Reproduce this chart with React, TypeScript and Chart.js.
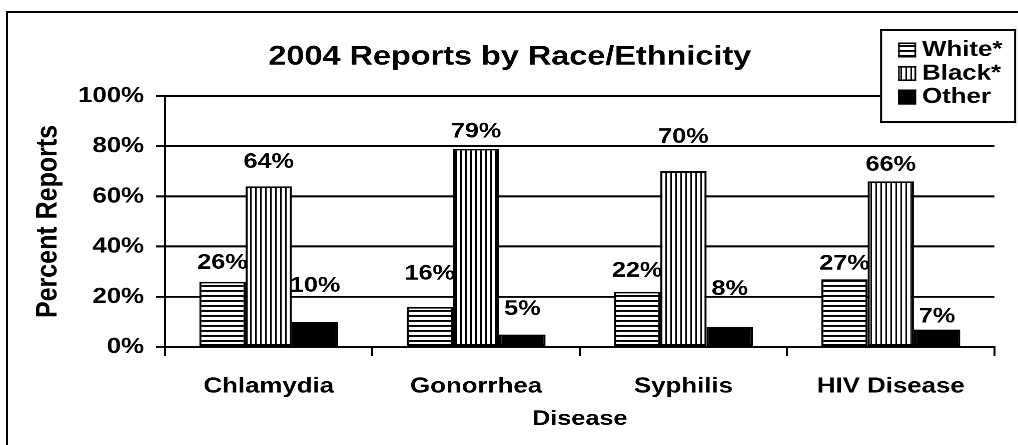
import React, { useEffect, useRef } from "react";
import { Chart, registerables } from "chart.js";

Chart.register(...registerables);

// ---------- data ----------
const categories = ["Chlamydia", "Gonorrhea", "Syphilis", "HIV Disease"];
const seriesNames = ["White*", "Black*", "Other"];
const whiteValues = [26, 16, 22, 27];
const blackValues = [64, 79, 70, 66];
const otherValues = [10, 5, 8, 7];
// where each value label sits (in percent units)
const whiteLabelAt = [33.5, 29.1, 30.3, 33.1];
const blackLabelAt = [73.7, 85.7, 83.7, 72.5];
const otherLabelAt = [24.3, 15.1, 23.1, 12.0];
const yTickValues = [0, 20, 40, 60, 80, 100];
const titleText = "2004 Reports by Race/Ethnicity";
const xAxisTitle = "Disease";
const yAxisTitle = "Percent Reports";

// ---------- rendering constants ----------
const LOGICAL_W = 848;
const SX = 1018 / LOGICAL_W; // horizontal stretch of the original picture
const DPR = 2.4;
const FONT = '"Liberation Sans", Arial, Helvetica, sans-serif';

function makePattern(kind: "h" | "v" | "solid"): CanvasPattern | string {
  if (kind === "solid") return "#000";
  const c = document.createElement("canvas");
  if (kind === "h") {
    c.width = 4;
    c.height = 12;
    const g = c.getContext("2d")!;
    g.fillStyle = "#fff";
    g.fillRect(0, 0, 4, 12);
    g.fillStyle = "#000";
    g.fillRect(0, 0, 4, 4);
  } else {
    c.width = 10;
    c.height = 4;
    const g = c.getContext("2d")!;
    g.fillStyle = "#fff";
    g.fillRect(0, 0, 10, 4);
    g.fillStyle = "#000";
    g.fillRect(0, 0, 3, 4);
  }
  const tmp = document.createElement("canvas").getContext("2d")!;
  const p = tmp.createPattern(c, "repeat")!;
  p.setTransform(new DOMMatrix([1 / DPR, 0, 0, 1 / DPR, 0, 0]));
  return p;
}

export default function App() {
  const ref = useRef<HTMLCanvasElement | null>(null);

  useEffect(() => {
    if (!ref.current) return;
    const fills = [makePattern("h"), makePattern("v"), makePattern("solid")];
    const seriesValues = [whiteValues, blackValues, otherValues];
    const labelAnchors = [whiteLabelAt, blackLabelAt, otherLabelAt];

    const valueLabels = {
      id: "valueLabels",
      afterDatasetsDraw(chart: any) {
        const { ctx } = chart;
        const y = chart.scales.y;
        ctx.save();
        ctx.font = `bold 21px ${FONT}`;
        ctx.fillStyle = "#000";
        ctx.textAlign = "center";
        ctx.textBaseline = "middle";
        chart.data.datasets.forEach((ds: any, di: number) => {
          const meta = chart.getDatasetMeta(di);
          meta.data.forEach((bar: any, i: number) => {
            ctx.fillText(ds.data[i] + "%", bar.x, y.getPixelForValue(labelAnchors[di][i]));
          });
        });
        ctx.restore();
      },
    };

    const boxLegend = {
      id: "boxLegend",
      afterDraw(chart: any) {
        const { ctx } = chart;
        const l = 880 / SX, r = 1016 / SX, t = 29, b = 123;
        const vw = 2 / SX;
        ctx.save();
        ctx.fillStyle = "#fff";
        ctx.fillRect(l, t, r - l, b - t);
        ctx.fillStyle = "#000";
        ctx.fillRect(l, t, r - l, 2);
        ctx.fillRect(l, b - 2, r - l, 2);
        ctx.fillRect(l, t, vw, b - t);
        ctx.fillRect(r - vw, t, vw, b - t);
        const firstY = 50, step = 23.5;
        const sx = 898 / SX, sw = 18 / SX, sh = 15;
        ctx.font = `bold 21.5px ${FONT}`;
        ctx.textAlign = "left";
        ctx.textBaseline = "middle";
        chart.data.datasets.forEach((ds: any, i: number) => {
          const cy = firstY + i * step;
          ctx.fillStyle = ds.backgroundColor;
          ctx.fillRect(sx, cy - sh / 2, sw, sh);
          ctx.fillStyle = "#000";
          ctx.fillRect(sx, cy - sh / 2, sw, 1.6);
          ctx.fillRect(sx, cy + sh / 2 - 1.6, sw, 1.6);
          ctx.fillRect(sx, cy - sh / 2, 1.6 / SX, sh);
          ctx.fillRect(sx + sw - 1.6 / SX, cy - sh / 2, 1.6 / SX, sh);
          ctx.fillText(ds.label, 922 / SX, cy);
        });
        ctx.restore();
      },
    };

    const chart = new Chart(ref.current, {
      type: "bar",
      data: {
        labels: categories,
        datasets: seriesNames.map((name, i) => ({
          label: name,
          data: seriesValues[i],
          backgroundColor: fills[i] as any,
          borderColor: "#000",
          borderWidth: 1.8,
          borderSkipped: false,
          categoryPercentage: 0.67,
          barPercentage: 1,
        })),
      },
      options: {
        animation: false,
        responsive: true,
        maintainAspectRatio: false,
        devicePixelRatio: DPR,
        layout: { padding: { left: 21, right: 19.7, top: 12, bottom: 13.4 } },
        events: [],
        plugins: {
          legend: { display: false },
          tooltip: { enabled: false },
          title: {
            display: true,
            text: titleText,
            color: "#000",
            font: { family: FONT, size: 27, weight: "bold" },
            padding: { top: 28.8, bottom: 22.8 },
          },
        },
        scales: {
          x: {
            type: "category",
            grid: {
              display: true,
              drawOnChartArea: false,
              drawTicks: true,
              tickLength: 9,
              lineWidth: 2 / SX,
              color: "#000",
              offset: true,
            },
            border: { display: true, color: "#000", width: 2 },
            ticks: {
              color: "#000",
              font: { family: FONT, size: 21.5, weight: "bold" },
              padding: 17.6,
              maxRotation: 0,
              autoSkip: false,
            },
            title: {
              display: true,
              text: xAxisTitle,
              color: "#000",
              font: { family: FONT, size: 21, weight: "bold" },
              padding: { top: 0, bottom: 0 },
            },
            afterFit: (s: any) => {
              s.height = 84.6;
            },
          },
          y: {
            min: 0,
            max: 100,
            afterBuildTicks: (s: any) => {
              s.ticks = yTickValues.map((v) => ({ value: v }));
            },
            ticks: {
              color: "#000",
              font: { family: FONT, size: 21.5, weight: "bold" },
              padding: 10,
              callback: (v: any) => v + "%",
            },
            grid: {
              color: "#000",
              lineWidth: 2,
              tickLength: 7.5,
              drawTicks: true,
            },
            border: { display: true, color: "#000", width: 2 / SX },
            title: {
              display: true,
              text: yAxisTitle,
              color: "#000",
              font: { family: FONT, size: 25, weight: "bold" },
              padding: { top: 4, bottom: 0 },
            },
            afterFit: (s: any) => {
              s.width = 116.5;
            },
          },
        },
      },
      plugins: [valueLabels, boxLegend],
    });
    return () => chart.destroy();
  }, []);

  return (
    <div
      style={{
        position: "fixed",
        left: 0,
        top: 0,
        width: 1018,
        height: 445,
        overflow: "hidden",
        background: "#fff",
      }}
    >
      <div
        style={{
          position: "absolute",
          left: 6,
          top: 11,
          width: 2000,
          height: 2000,
          borderLeft: "2px solid #000",
          borderTop: "2px solid #000",
        }}
      />
      <div
        style={{
          position: "absolute",
          left: 0,
          top: 0,
          width: LOGICAL_W,
          height: 445,
          transform: `scaleX(${SX})`,
          transformOrigin: "0 0",
        }}
      >
        <canvas ref={ref} />
      </div>
    </div>
  );
}
